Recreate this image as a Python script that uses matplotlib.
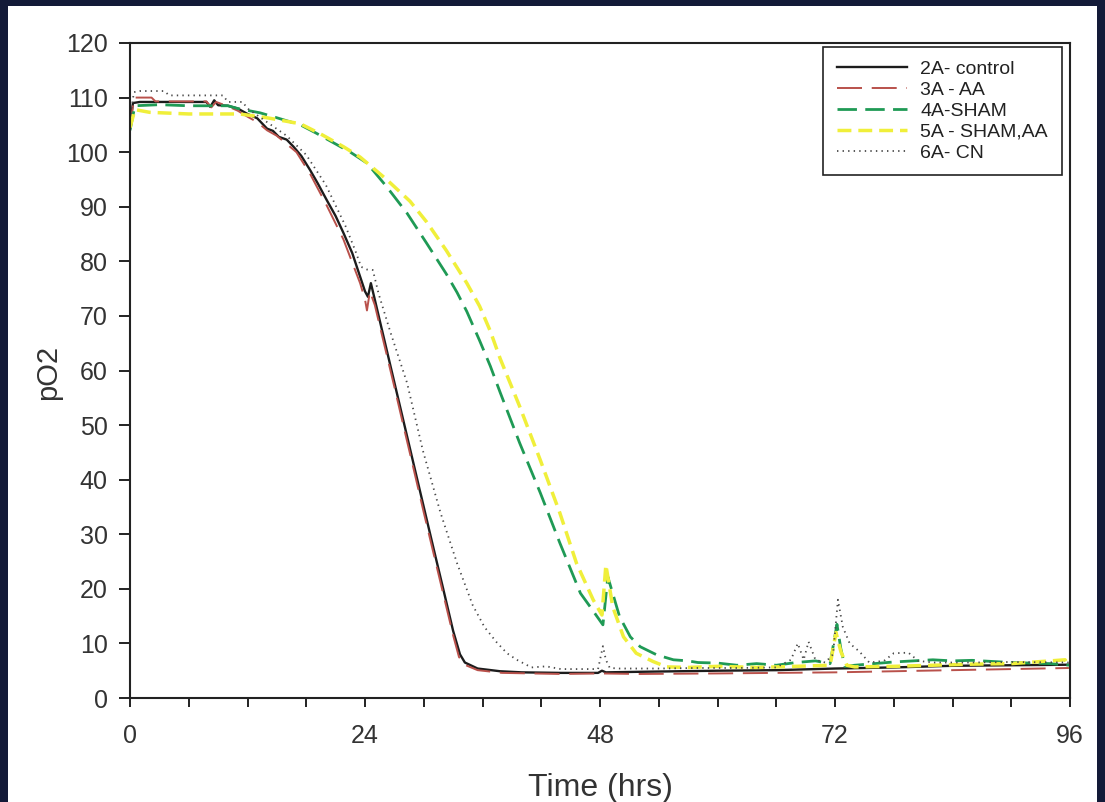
import matplotlib
matplotlib.use("Agg")
import matplotlib.pyplot as plt
from matplotlib.patches import Rectangle
from matplotlib.ticker import MultipleLocator

# --- data (time in hrs, pO2) ---
ctrl_t = [0, 0.3, 1, 4, 7.8, 8.2, 8.6, 9, 10, 11, 12, 13, 14, 14.6, 15.2, 16, 16.7,
          17.5, 18.4, 19.2, 20.1, 21, 21.8, 22.7, 23.5, 24.0, 24.3, 24.6, 25, 26, 27,
          28, 29, 30, 31, 32, 33, 33.7, 34.2, 35.5, 37.8, 40, 44, 47.8, 48.2, 48.6,
          52, 60, 66, 72, 78, 84, 90, 96]
ctrl_y = [105, 109, 109.2, 109.2, 109.2, 108.3, 109.5, 108.6, 108.5, 108, 107, 106.2,
          104.3, 103.9, 102.8, 102.3, 101, 99.3, 96.7, 94.2, 91.2, 88.3, 85.2, 81.5,
          77.2, 74.5, 73.5, 76, 73, 65.4, 57.8, 50.2, 42.6, 35, 27.4, 19.9, 12.3, 8,
          6.5, 5.4, 4.9, 4.7, 4.6, 4.6, 5.0, 4.7, 4.8, 5.0, 5.1, 5.4, 5.6, 5.9, 6.0, 6.1]

aa_t = [0, 0.4, 2.2, 2.6, 7.8, 8.3, 8.8, 10, 11, 12, 13, 14, 15, 16, 17, 18.4, 20.1,
        21.8, 23.5, 24.0, 24.2, 24.5, 25, 26, 27, 28, 29, 30, 31, 32, 33, 33.6, 34.3,
        35.5, 38, 44, 48, 52, 60, 72, 84, 96]
aa_y = [104, 110, 110, 109.3, 109.3, 108.2, 109.2, 108.4, 107.6, 106.5, 105.5, 104,
        103, 101.5, 100, 96, 90.2, 84, 76, 73, 71, 74.5, 72, 64.5, 57, 49.3, 41.7, 34,
        26.5, 19, 11.5, 7.5, 6, 5.1, 4.6, 4.4, 4.5, 4.4, 4.5, 4.7, 5.1, 5.5]

sham_t = [0, 0.5, 3, 6, 10, 11, 13.3, 15, 17.4, 19, 20.8, 22.5, 24.2, 26.2, 28.3, 30.3,
          32.3, 33.4, 34.4, 35.7, 36.8, 37.8, 39.8, 41.9, 43.9, 46, 47, 48.3, 48.8, 50,
          51.1, 52.1, 53.8, 55.5, 57, 58, 60, 62, 64, 66, 68, 70, 71.5, 72.2, 72.6, 73,
          74, 76, 78, 80, 82, 84, 86, 88, 90, 92, 94, 96]
sham_y = [104, 108.5, 108.7, 108.5, 108.5, 108, 107.2, 106.3, 105, 103.5, 101.7, 100,
          98, 93.7, 88.8, 83.3, 77.7, 74.3, 70.8, 65.5, 60.8, 56, 46.7, 37.6, 28.4, 19.2,
          16.7, 13.4, 22.2, 14.9, 11.2, 9.4, 7.9, 7.0, 6.8, 6.5, 6.4, 6.0, 6.3, 6.0,
          6.5, 6.8, 6.3, 13.5, 9, 5.8, 6.0, 6.3, 6.6, 6.8, 7.0, 6.8, 6.9, 6.7, 6.5,
          6.4, 6.3, 6.0]

shamaa_t = [0, 0.5, 2, 6, 10, 11.2, 14, 17.4, 19.5, 21.8, 23.5, 26.2, 28.6, 30.3, 32.3,
            34.4, 35.7, 36.8, 37.8, 39.8, 41.9, 43.9, 45.6, 47.3, 48.2, 48.6, 49.3,
            50.4, 51.7, 53.4, 54.8, 57, 60, 64, 68, 71.5, 72.1, 72.6, 73.2, 74, 78, 82,
            86, 90, 94, 95.5, 96]
shamaa_y = [104.5, 107.8, 107.3, 107, 107, 107, 106.3, 105.2, 103.3, 101, 99.1, 95, 91,
            87.2, 82, 76, 71.8, 67.2, 62.2, 53.4, 43.6, 33.9, 24.7, 18, 15.2, 24.4,
            16.7, 11.2, 8.2, 6.7, 5.7, 5.6, 5.8, 5.6, 5.8, 6.0, 12, 8.5, 6.0, 5.7, 5.8,
            6.0, 6.2, 6.3, 6.8, 7.0, 5.6]

cn_t = [0, 0.4, 1, 3.5, 4, 9.5, 10, 11.5, 12, 14, 16, 18, 20, 22, 23, 23.6, 24.2, 24.8,
        25.4, 26.6, 28.3, 29.9, 31.7, 33.4, 35, 36.2, 37.4, 38.5, 39.5, 41, 42.5, 44,
        46, 47.8, 48.3, 48.6, 49, 50, 54, 58, 62, 66, 67.5, 68.2, 68.8, 69.3, 70, 71,
        71.8, 72.3, 72.8, 73.5, 74.5, 75.5, 77, 78, 79.5, 80.5, 82, 86, 90, 96]
cn_y = [106, 111, 111.2, 111.2, 110.4, 110.4, 109.2, 109.2, 108, 105.5, 103, 99.5, 94,
        86.5, 82, 79, 78.5, 78.4, 74, 67, 57.7, 45.4, 34, 24.7, 17, 13, 10.3, 8.2, 7,
        5.6, 5.8, 5.3, 5.3, 5.3, 9.5, 7, 5.5, 5.4, 5.4, 5.5, 5.5, 5.6, 7, 10, 7, 10.3,
        7, 6.5, 8, 18, 13, 10, 8.5, 6.5, 6.8, 8.2, 8.3, 6.8, 6.5, 6.5, 6.6, 6.5]

labels = ["2A- control", "3A - AA", "4A-SHAM", "5A - SHAM,AA", "6A- CN"]
x_ticks = [0, 24, 48, 72, 96]

plt.rcParams["font.family"] = ["Liberation Sans", "DejaVu Sans"]
plt.rcParams["lines.scale_dashes"] = False

fig = plt.figure(figsize=(11.05, 8.02), dpi=100)
fig.patch.set_facecolor("#131a38")
# white scanned page inside the dark frame
fig.add_artist(Rectangle((8 / 1105, 0), 1089 / 1105, 796 / 802,
                         transform=fig.transFigure, facecolor="white",
                         edgecolor="none", zorder=-1))

ax = fig.add_axes([130 / 1105, 104 / 802, 940 / 1105, 655 / 802])
ax.set_facecolor("white")

ax.plot(ctrl_t, ctrl_y, color="#1c1c1c", lw=1.7, label=labels[0])
ax.plot(aa_t, aa_y, color="#b9514b", lw=1.4, dashes=(18, 7), label=labels[1])
ax.plot(sham_t, sham_y, color="#1f9a55", lw=2.0, dashes=(14, 6), label=labels[2])
ax.plot(shamaa_t, shamaa_y, color="#f0ef3a", lw=2.5, dashes=(10, 5), label=labels[3])
ax.plot(cn_t, cn_y, color="#4a4a4a", lw=1.3, dashes=(1, 3), label=labels[4])

ax.set_xlim(0, 96)
ax.set_ylim(0, 120)
ax.set_xticks(x_ticks)
ax.xaxis.set_minor_locator(MultipleLocator(6))
ax.yaxis.set_major_locator(MultipleLocator(10))

ax.tick_params(axis="both", which="both", direction="out", colors="#222222",
               labelcolor="#333333", width=1.4)
ax.tick_params(axis="y", length=8, pad=8, labelsize=18)
ax.tick_params(axis="x", which="major", length=6.5, pad=12.5, labelsize=18)
ax.tick_params(axis="x", which="minor", length=6.5)
for s in ax.spines.values():
    s.set_linewidth(1.5)
    s.set_color("#222222")

ax.set_ylabel("pO2", fontsize=21, color="#333333")
ax.yaxis.set_label_coords(-0.072, 0.497)
ax.set_xlabel("Time (hrs)", fontsize=23, color="#333333")
ax.xaxis.set_label_coords(0.5, -0.115)

leg = ax.legend(loc="upper right", bbox_to_anchor=(0.991, 0.994), borderaxespad=0,
                fontsize=14, frameon=True, fancybox=False, framealpha=1,
                edgecolor="#222222", handlelength=3.6, handletextpad=0.7,
                labelspacing=0.17, borderpad=0.7)
leg.get_frame().set_linewidth(1.2)
for txt in leg.get_texts():
    txt.set_color("#222222")

fig.savefig("out.png", dpi=100, facecolor=fig.get_facecolor())
